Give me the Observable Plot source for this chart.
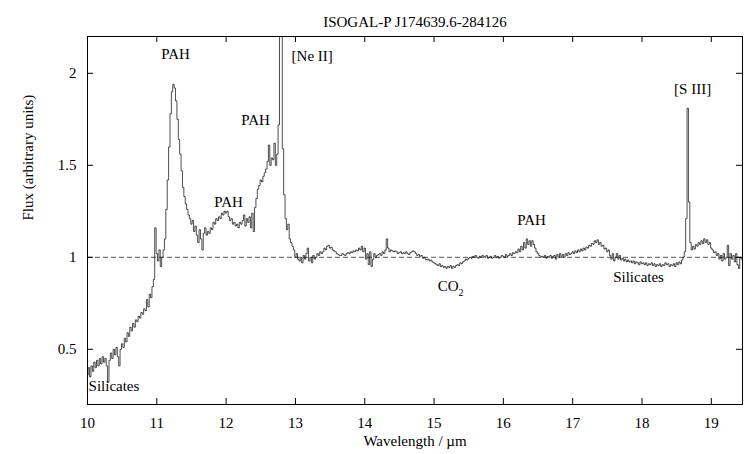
<!DOCTYPE html>
<html>
<head>
<meta charset="utf-8">
<script src="https://cdn.jsdelivr.net/npm/d3@7"></script>
<script src="https://cdn.jsdelivr.net/npm/@observablehq/plot@0.6"></script>
<style>
  html, body { margin: 0; padding: 0; background: #fff; }
  svg { display: block; }
  svg, svg text { font-family: "Liberation Serif", "Times New Roman", serif !important; }
</style>
</head>
<body>
<div id="chart"></div>
<script>
const title = "ISOGAL-P J174639.6-284126";
const xLabel = "Wavelength / µm";
const yLabel = "Flux (arbitrary units)";
const xTicks = [10, 11, 12, 13, 14, 15, 16, 17, 18, 19];
const yTicks = [0.5, 1, 1.5, 2];
const yTickLabels = ["0.5", "1", "1.5", "2"];
const continuum = [1];

// [wavelength (µm), flux]
const spectrum = [
[10.00,0.36],[10.02,0.40],[10.04,0.35],[10.06,0.41],[10.08,0.38],[10.10,0.43],[10.12,0.40],[10.14,0.44],[10.16,0.41],[10.18,0.45],
[10.20,0.42],[10.22,0.46],[10.24,0.43],[10.26,0.45],[10.28,0.41],[10.30,0.32],[10.32,0.44],[10.34,0.48],[10.36,0.45],[10.38,0.50],
[10.40,0.47],[10.42,0.51],[10.44,0.46],[10.46,0.41],[10.48,0.50],[10.50,0.53],[10.52,0.51],[10.54,0.56],[10.56,0.54],[10.58,0.59],
[10.60,0.57],[10.62,0.62],[10.64,0.60],[10.66,0.64],[10.68,0.62],[10.70,0.66],[10.72,0.65],[10.74,0.68],[10.76,0.67],[10.78,0.70],
[10.80,0.69],[10.82,0.72],[10.84,0.71],[10.86,0.77],[10.88,0.73],[10.90,0.80],[10.92,0.78],[10.94,0.84],[10.96,0.88],[10.98,1.16],
[11.00,1.02],[11.02,0.98],[11.04,1.04],[11.06,0.95],[11.08,1.00],[11.10,1.04],[11.12,1.10],[11.14,1.26],[11.16,1.42],[11.18,1.60],
[11.20,1.78],[11.22,1.90],[11.24,1.94],[11.26,1.92],[11.28,1.85],[11.30,1.75],[11.32,1.64],[11.34,1.56],[11.36,1.47],[11.38,1.38],
[11.40,1.33],[11.42,1.29],[11.44,1.26],[11.46,1.23],[11.48,1.21],[11.50,1.18],[11.52,1.20],[11.54,1.14],[11.56,1.17],[11.58,1.12],
[11.60,1.08],[11.62,1.15],[11.64,1.10],[11.66,1.04],[11.68,1.13],[11.70,1.16],[11.72,1.12],[11.74,1.14],[11.76,1.13],[11.78,1.16],
[11.80,1.15],[11.82,1.19],[11.84,1.18],[11.86,1.21],[11.88,1.20],[11.90,1.22],[11.92,1.21],[11.94,1.24],[11.96,1.23],[11.98,1.25],
[12.00,1.24],[12.02,1.25],[12.04,1.22],[12.06,1.20],[12.08,1.21],[12.10,1.18],[12.12,1.19],[12.14,1.17],[12.16,1.18],[12.18,1.16],
[12.20,1.19],[12.22,1.18],[12.24,1.20],[12.26,1.23],[12.28,1.17],[12.30,1.21],[12.32,1.19],[12.34,1.22],[12.36,1.16],[12.38,1.24],
[12.40,1.14],[12.42,1.27],[12.44,1.32],[12.46,1.37],[12.48,1.39],[12.50,1.42],[12.52,1.41],[12.54,1.44],[12.56,1.46],[12.58,1.48],
[12.60,1.52],[12.62,1.61],[12.64,1.50],[12.66,1.54],[12.68,1.53],[12.70,1.62],[12.72,1.50],[12.74,1.56],[12.76,1.72],[12.78,3.20],
[12.80,2.60],[12.82,1.59],[12.84,1.34],[12.86,1.21],[12.88,1.15],[12.90,1.18],[12.92,1.10],[12.94,1.08],[12.96,1.06],[12.98,1.04],
[13.00,1.00],[13.02,1.02],[13.04,0.99],[13.06,0.98],[13.08,1.00],[13.10,0.97],[13.12,1.01],[13.14,0.99],[13.16,1.02],[13.18,1.05],
[13.20,0.98],[13.22,1.00],[13.24,0.97],[13.26,1.01],[13.28,0.99],[13.30,1.00],[13.32,1.02],[13.34,1.01],[13.36,1.03],[13.38,1.02],
[13.40,1.03],[13.42,1.05],[13.44,1.04],[13.46,1.06],[13.48,1.065],[13.50,1.05],[13.52,1.055],[13.54,1.04],[13.56,1.035],[13.58,1.03],
[13.60,1.02],[13.62,1.015],[13.64,1.01],[13.66,1.01],[13.68,1.02],[13.70,1.015],[13.72,1.01],[13.74,1.02],[13.76,1.025],[13.78,1.02],
[13.80,1.03],[13.82,1.025],[13.84,1.035],[13.86,1.03],[13.88,1.04],[13.90,1.035],[13.92,1.05],[13.94,1.04],[13.96,1.06],[13.98,1.03],
[14.00,1.05],[14.02,0.99],[14.04,1.02],[14.06,0.96],[14.08,1.03],[14.10,0.95],[14.12,0.99],[14.14,1.02],[14.16,1.00],[14.18,1.01],
[14.20,1.015],[14.22,1.02],[14.24,1.01],[14.26,1.03],[14.28,1.02],[14.30,1.04],[14.32,1.10],[14.34,1.05],[14.36,1.03],[14.38,1.04],
[14.40,1.035],[14.42,1.03],[14.44,1.035],[14.46,1.03],[14.48,1.02],[14.50,1.025],[14.52,1.03],[14.54,1.02],[14.56,1.025],[14.58,1.02],
[14.60,1.03],[14.62,1.02],[14.64,1.015],[14.66,1.025],[14.68,1.03],[14.70,1.035],[14.72,1.03],[14.74,1.02],[14.76,1.01],[14.78,1.015],
[14.80,1.005],[14.82,1.01],[14.84,0.995],[14.86,1.00],[14.88,0.99],[14.90,0.985],[14.92,0.99],[14.94,0.98],[14.96,0.985],[14.98,0.975],
[15.00,0.97],[15.02,0.965],[15.04,0.96],[15.06,0.955],[15.08,0.965],[15.10,0.95],[15.12,0.955],[15.14,0.945],[15.16,0.95],[15.18,0.94],
[15.20,0.95],[15.22,0.945],[15.24,0.955],[15.26,0.94],[15.28,0.95],[15.30,0.945],[15.32,0.955],[15.34,0.96],[15.36,0.955],[15.38,0.97],
[15.40,0.965],[15.42,0.975],[15.44,0.98],[15.46,0.99],[15.48,0.985],[15.50,0.995],[15.52,1.00],[15.54,0.995],[15.56,1.005],[15.58,1.00],
[15.60,1.01],[15.62,1.00],[15.64,0.995],[15.66,1.005],[15.68,1.00],[15.70,1.01],[15.72,1.005],[15.74,1.00],[15.76,1.01],[15.78,0.995],
[15.80,1.00],[15.82,1.005],[15.84,0.995],[15.86,1.00],[15.88,1.01],[15.90,1.00],[15.92,1.005],[15.94,0.995],[15.96,1.00],[15.98,1.01],
[16.00,1.005],[16.02,1.00],[16.04,1.015],[16.06,1.005],[16.08,1.01],[16.10,1.02],[16.12,1.01],[16.14,1.025],[16.16,1.02],[16.18,1.03],
[16.20,1.025],[16.22,1.045],[16.24,1.03],[16.26,1.06],[16.28,1.04],[16.30,1.08],[16.32,1.05],[16.34,1.10],[16.36,1.07],[16.38,1.09],
[16.40,1.06],[16.42,1.09],[16.44,1.07],[16.46,1.05],[16.48,1.03],[16.50,1.02],[16.52,1.01],[16.54,1.00],[16.56,1.005],[16.58,1.00],
[16.60,1.01],[16.62,0.995],[16.64,1.005],[16.66,1.00],[16.68,1.01],[16.70,0.995],[16.72,1.005],[16.74,1.01],[16.76,0.99],[16.78,1.015],
[16.80,1.00],[16.82,1.02],[16.84,1.005],[16.86,1.015],[16.88,1.00],[16.90,1.02],[16.92,1.01],[16.94,1.025],[16.96,1.015],[16.98,1.02],
[17.00,1.03],[17.02,1.02],[17.04,1.035],[17.06,1.025],[17.08,1.04],[17.10,1.03],[17.12,1.045],[17.14,1.035],[17.16,1.05],[17.18,1.04],
[17.20,1.055],[17.22,1.05],[17.24,1.065],[17.26,1.06],[17.28,1.075],[17.30,1.07],[17.32,1.09],[17.34,1.08],[17.36,1.095],[17.38,1.07],
[17.40,1.08],[17.42,1.06],[17.44,1.065],[17.46,1.045],[17.48,1.05],[17.50,1.03],[17.52,1.04],[17.54,1.01],[17.56,0.99],[17.58,1.02],
[17.60,0.98],[17.62,1.00],[17.64,1.02],[17.66,0.99],[17.68,1.01],[17.70,0.985],[17.72,0.995],[17.74,0.98],[17.76,0.99],[17.78,0.975],
[17.80,0.985],[17.82,0.975],[17.84,0.98],[17.86,0.97],[17.88,0.98],[17.90,0.965],[17.92,0.975],[17.94,0.97],[17.96,0.96],[17.98,0.975],
[18.00,0.965],[18.02,0.97],[18.04,0.96],[18.06,0.97],[18.08,0.955],[18.10,0.965],[18.12,0.96],[18.14,0.97],[18.16,0.955],[18.18,0.965],
[18.20,0.95],[18.22,0.96],[18.24,0.955],[18.26,0.965],[18.28,0.95],[18.30,0.96],[18.32,0.955],[18.34,0.97],[18.36,0.96],[18.38,0.965],
[18.40,0.95],[18.42,0.96],[18.44,0.955],[18.46,0.965],[18.48,0.95],[18.50,0.97],[18.52,0.96],[18.54,0.975],[18.56,0.965],[18.58,0.985],
[18.60,1.00],[18.62,1.03],[18.64,1.21],[18.66,1.81],[18.68,1.30],[18.70,1.08],[18.72,1.04],[18.74,1.06],[18.76,1.045],[18.78,1.07],
[18.80,1.06],[18.82,1.08],[18.84,1.07],[18.86,1.09],[18.88,1.075],[18.90,1.10],[18.92,1.08],[18.94,1.095],[18.96,1.07],[18.98,1.08],
[19.00,1.05],[19.02,1.04],[19.04,1.025],[19.06,1.03],[19.08,1.01],[19.10,1.02],[19.12,0.99],[19.14,1.01],[19.16,0.98],[19.18,1.02],
[19.20,0.99],[19.22,1.00],[19.24,1.065],[19.26,0.955],[19.28,1.02],[19.30,0.99],[19.32,1.01],[19.34,0.975],[19.36,1.02],[19.38,0.96],
[19.40,0.94],[19.42,1.00],[19.44,0.99],[19.46,1.00]
];

// annotations (label, wavelength, flux)
const labelsCentered = [
  {label: "PAH", x: 11.27, y: 2.104},
  {label: "PAH", x: 12.424, y: 1.746},
  {label: "PAH", x: 12.035, y: 1.30},
  {label: "PAH", x: 16.407, y: 1.203},
  {label: "[S III]", x: 18.73, y: 1.915},
  {label: "Silicates", x: 17.95, y: 0.893}
];
const labelsStart = [
  {label: "[Ne II]", x: 12.944, y: 2.094},
  {label: "Silicates", x: 10.015, y: 0.30}
];
const labelsEnd = [{label: "CO", x: 15.354, y: 0.844}];
const subscripts = [{label: "2", x: 15.354, y: 0.808}];

const font = "Liberation Serif";
const fs = 15;
const frameW = 744 - 87 - 2;
const frameH = 454 - 36 - 50;
const tickLen = 6;

const plot = Plot.plot({
  width: 744,
  height: 454,
  marginLeft: 87,
  marginRight: 2,
  marginTop: 36,
  marginBottom: 50,
  style: {fontFamily: font, fontSize: fs + "px", background: "#fff", color: "#000"},
  x: {domain: [10, 19.45], axis: null},
  y: {domain: [0.2, 2.2], axis: null},
  marks: [
    Plot.ruleY(continuum, {stroke: "#444", strokeWidth: 0.9, strokeDasharray: "5,3"}),
    Plot.line(spectrum, {x: d => d[0], y: d => d[1], curve: "step", stroke: "#000", strokeWidth: 0.7, clip: true}),
    Plot.frame({stroke: "#000", strokeWidth: 1}),
    // inward ticks on all four sides
    Plot.tickX(xTicks, {x: d => d, stroke: "#000", insetTop: frameH - tickLen}),
    Plot.tickX(xTicks, {x: d => d, stroke: "#000", insetBottom: frameH - tickLen}),
    Plot.tickY(yTicks, {y: d => d, stroke: "#000", insetRight: frameW - tickLen}),
    Plot.tickY(yTicks, {y: d => d, stroke: "#000", insetLeft: frameW - tickLen}),
    // tick labels
    Plot.axisX(xTicks, {anchor: "bottom", tickSize: 0, tickPadding: 13, label: null, fontSize: fs}),
    Plot.axisY(yTicks, {anchor: "left", tickSize: 0, tickPadding: 11, label: null, fontSize: fs,
      tickFormat: d => yTickLabels[yTicks.indexOf(d)]}),
    // axis titles and chart title
    Plot.text([xLabel], {frameAnchor: "bottom", dy: 41, fontSize: fs}),
    Plot.text([yLabel], {frameAnchor: "left", dx: -59, rotate: -90, fontSize: fs}),
    Plot.text([title], {frameAnchor: "top", dy: -20, fontSize: fs}),
    // annotations
    Plot.text(labelsCentered, {x: "x", y: "y", text: "label", textAnchor: "middle", fontSize: fs}),
    Plot.text(labelsStart, {x: "x", y: "y", text: "label", textAnchor: "start", fontSize: fs}),
    Plot.text(labelsEnd, {x: "x", y: "y", text: "label", textAnchor: "end", fontSize: fs}),
    Plot.text(subscripts, {x: "x", y: "y", text: "label", textAnchor: "start", fontSize: 10})
  ]
});
document.getElementById("chart").appendChild(plot);
</script>
</body>
</html>
